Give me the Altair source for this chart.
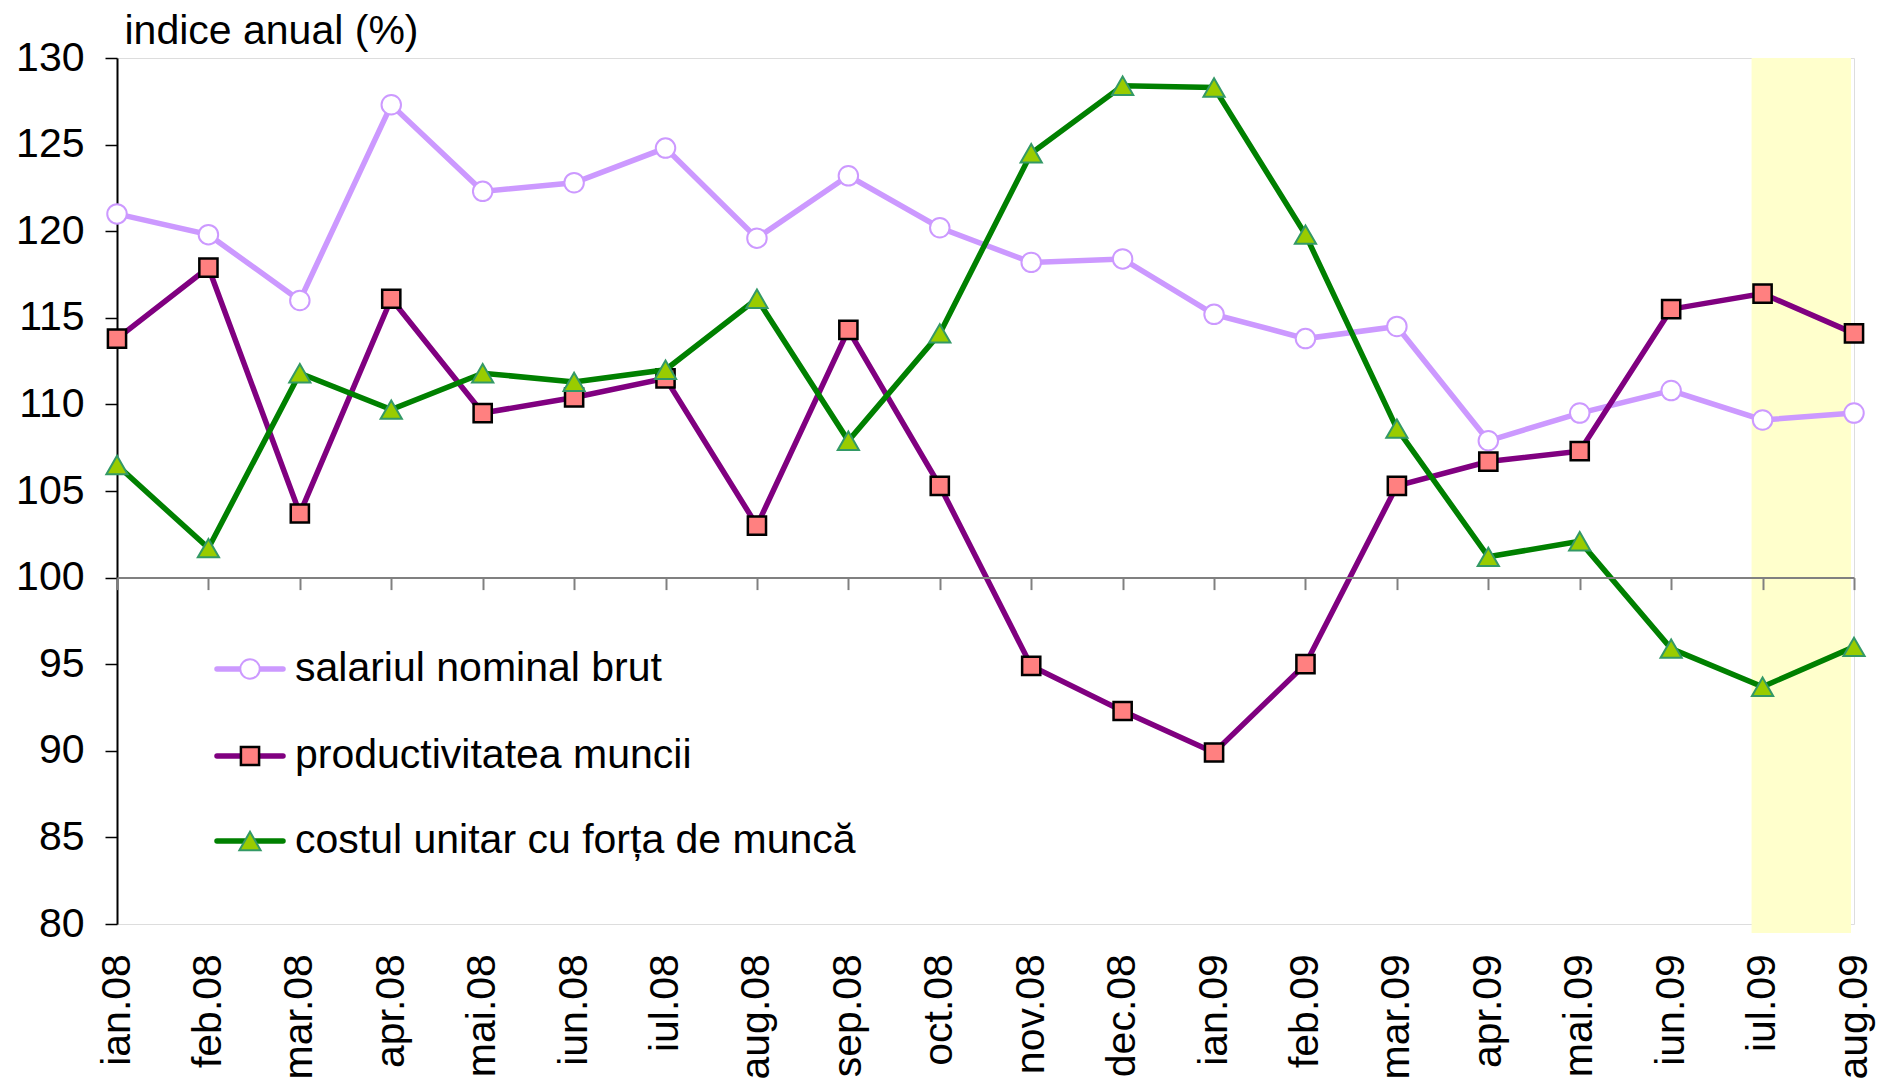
import altair as alt
import pandas as pd

months = ["ian.08", "feb.08", "mar.08", "apr.08", "mai.08", "iun.08", "iul.08",
          "aug.08", "sep.08", "oct.08", "nov.08", "dec.08", "ian.09", "feb.09",
          "mar.09", "apr.09", "mai.09", "iun.09", "iul.09", "aug.09"]

salariul = [121.0, 119.8, 116.0, 127.3, 122.3, 122.8, 124.8, 119.6, 123.2, 120.2,
            118.2, 118.4, 115.2, 113.8, 114.5, 107.9, 109.5, 110.8, 109.1, 109.5]
productivitatea = [113.8, 117.9, 103.7, 116.1, 109.5, 110.4, 111.5, 103.0, 114.3, 105.3,
                   94.9, 92.3, 89.9, 95.0, 105.3, 106.7, 107.3, 115.5, 116.4, 114.1]
costul = [106.5, 101.7, 111.8, 109.7, 111.8, 111.3, 112.0, 116.1, 107.9, 114.1,
          124.5, 128.4, 128.3, 119.8, 108.6, 101.2, 102.1, 95.9, 93.7, 96.0]

series_names = ["salariul nominal brut", "productivitatea muncii",
                "costul unitar cu forța de muncă"]
y_ticks = [80, 85, 90, 95, 100, 105, 110, 115, 120, 125, 130]
highlight = {"start": ["iul.09"], "end": ["aug.09"], "top": [130], "bottom": [80]}

W, H = 1737, 866
FONT = "Liberation Sans"

df = pd.concat([
    pd.DataFrame({"month": months, "value": vals, "series": name})
    for name, vals in zip(series_names, [salariul, productivitatea, costul])
], ignore_index=True)

xscale = alt.Scale(type="point", domain=months, padding=0)
yscale = alt.Scale(domain=[80, 130], nice=False, zero=False)

xaxis = alt.Axis(title=None, offset=-0.4 * H, domainColor="#808080", domainWidth=2,
                 tickColor="#808080", tickWidth=2, tickSize=12, labelAngle=270,
                 labelAlign="right", labelBaseline="middle", labelFontSize=41,
                 labelPadding=364, labelColor="black", labelOverlap=False,
                 grid=False, labelFont=FONT)
yaxis = alt.Axis(values=y_ticks, tickSize=12, tickColor="black", tickWidth=1.5,
                 domainColor="black", domainWidth=2, labelFontSize=41, labelPadding=21,
                 labelColor="black", grid=False, labelFont=FONT,
                 title="indice anual (%)", titleAngle=0, titleAlign="left",
                 titleBaseline="alphabetic", titleX=7, titleY=-15, titleFontSize=41,
                 titleFontWeight="normal", titleColor="black", titleFont=FONT)

X = alt.X("month:N", scale=xscale, axis=xaxis)
Y = alt.Y("value:Q", scale=yscale, axis=yaxis)

band = alt.Chart(pd.DataFrame(highlight)).mark_rect(
    color="#FFFFCC", xOffset=-11, x2Offset=-3, y2Offset=9
).encode(
    x=alt.X("start:N", scale=xscale, axis=xaxis), x2="end:N",
    y=alt.Y("top:Q", scale=yscale, axis=yaxis), y2="bottom:Q"
)

styles = [
    dict(line="#CC99FF", shape="circle", fill="white", stroke="#CC99FF", size=380, sw=2),
    dict(line="#800080", shape="square", fill="#FF8080", stroke="black", size=330, sw=2.5),
    dict(line="#008000", shape="triangle-up", fill="#99CC00", stroke="#339966", size=450, sw=2),
]

layers = [band]
for name, st in zip(series_names, styles):
    base = alt.Chart(df).transform_filter(alt.datum.series == name)
    layers.append(base.mark_line(color=st["line"], strokeWidth=5.5).encode(x=X, y=Y))
    layers.append(base.mark_point(shape=st["shape"], filled=True, fill=st["fill"],
                                  stroke=st["stroke"], strokeWidth=st["sw"], size=st["size"],
                                  opacity=1).encode(x=X, y=Y))

legend_rows = [611, 698, 783]
for name, st, ry in zip(series_names, styles, legend_rows):
    ldf = pd.DataFrame({"label": [name]})
    lb = alt.Chart(ldf)
    layers.append(lb.mark_rule(color=st["line"], strokeWidth=5.5, strokeCap="round").encode(
        x=alt.value(100), x2=alt.value(166), y=alt.value(ry)))
    layers.append(lb.mark_point(shape=st["shape"], filled=True, fill=st["fill"],
                                stroke=st["stroke"], strokeWidth=st["sw"], size=st["size"],
                                opacity=1).encode(x=alt.value(133), y=alt.value(ry)))
    layers.append(lb.mark_text(align="left", baseline="middle", fontSize=41, font=FONT,
                               color="black").encode(
        x=alt.value(178), y=alt.value(ry), text="label:N"))

chart = alt.layer(*layers).properties(
    width=W, height=H,
    autosize=alt.AutoSizeParams(type="none"),
    padding={"left": 109, "top": 50, "right": 29, "bottom": 155},
).configure_view(stroke="#808080", strokeWidth=2).configure(font=FONT)

chart.save("out.html", embed_options={"renderer": "svg", "actions": False})
